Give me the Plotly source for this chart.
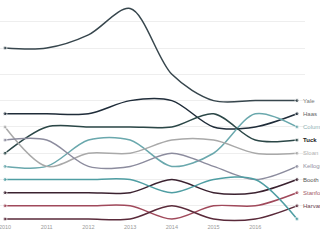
import plotly.graph_objects as go

years = [2010, 2011, 2012, 2013, 2014, 2015, 2016, 2017]
tick_years = [2010, 2011, 2012, 2013, 2014, 2015, 2016]

schools = ["Yale", "Haas", "Columbia", "Tuck", "Sloan", "Kellogg", "Booth", "Stanford", "Harvard", "Wharton"]
yale = [14, 14, 15, 17, 12, 10, 10, 10]
haas = [9, 9, 9, 10, 10, 8, 8, 9]
columbia = [5, 5, 7, 7, 5, 6, 9, 8]
tuck = [6, 8, 8, 8, 8, 9, 7, 7]
sloan = [8, 5, 6, 6, 7, 7, 6, 6]
kellogg = [7, 7, 5, 5, 6, 5, 4, 5]
booth = [3, 3, 3, 3, 4, 3, 3, 4]
stanford = [2, 2, 2, 2, 1, 2, 2, 3]
harvard = [1, 1, 1, 1, 2, 1, 1, 2]
wharton = [4, 4, 4, 4, 3, 4, 4, 1]
series = [yale, haas, columbia, tuck, sloan, kellogg, booth, stanford, harvard, wharton]

line_colors = ["#37464d", "#1f2c39", "#6aa8ad", "#2b4747", "#a9a9a9", "#8c8c9e",
               "#3b2230", "#a0495b", "#5a2a3a", "#4f9ea3"]
label_colors = ["#777777", "#666666", "#8fb3b6", "#222222", "#b0b0b0", "#8f8fa3",
                "#555555", "#a35a68", "#6a4450", "#4f9ea3"]
show_label = [True, True, True, True, True, True, True, True, True, False]

fig = go.Figure()
for name, vals, col in zip(schools, series, line_colors):
    sizes = [4] + [0] * (len(vals) - 2) + [4]
    fig.add_trace(go.Scatter(
        x=years, y=vals, mode="lines+markers", name=name,
        line=dict(color=col, width=1.5, shape="spline", smoothing=0.9),
        marker=dict(size=sizes, color=col),
        cliponaxis=False, hoverinfo="skip",
    ))

for name, vals, col, show in zip(schools, series, label_colors, show_label):
    if not show:
        continue
    fig.add_annotation(
        x=years[-1], y=vals[-1], text=("<b>%s</b>" % name) if name == "Tuck" else name,
        xanchor="left", yanchor="middle", xshift=4, showarrow=False,
        font=dict(size=6, color=col, family="Liberation Sans, Arial, sans-serif"),
    )

fig.update_layout(
    width=320, height=240,
    margin=dict(l=0, r=15, t=0, b=18),
    paper_bgcolor="white", plot_bgcolor="white",
    showlegend=False,
    xaxis=dict(range=[2009.88, 2017.192], tickvals=tick_years, ticktext=[str(y) for y in tick_years],
               showgrid=False, zeroline=False, showline=False, ticks="",
               ticklabeloverflow="allow",
               tickfont=dict(size=5.5, color="#999999", family="Liberation Sans, Arial, sans-serif")),
    yaxis=dict(range=[0.772, 17.65], tick0=0, dtick=2, showgrid=True, gridcolor="#eeeeee",
               gridwidth=1, zeroline=False, showticklabels=False, showline=False, ticks=""),
)

fig.write_html("out.html")
